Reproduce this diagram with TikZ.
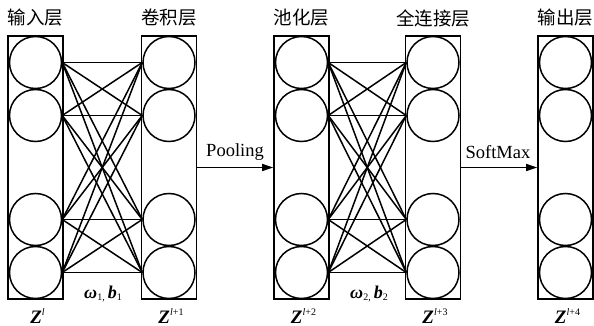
\documentclass[tikz,border=0pt]{standalone}
\usepackage{fontspec}
\setmainfont{Liberation Serif}
\newfontfamily\cjk{Noto Sans CJK SC}
\usetikzlibrary{arrows.meta}

\begin{document}
\begin{tikzpicture}[x=1pt,y=-1pt,
  layerbox/.style={draw, line width=1.7pt, minimum width=55pt, minimum height=263pt, inner sep=0pt},
  neuron/.style={circle, draw, line width=1.5pt, minimum size=52pt, inner sep=0pt},
  link/.style={line width=1.5pt},
  flow/.style={line width=1.5pt, -{Triangle[length=11pt,width=7pt]}},
  layertitle/.style={font=\cjk\fontsize{18.5}{18.5}\selectfont},
  zlabel/.style={anchor=base, font=\fontsize{19}{19}\selectfont},
  wlabel/.style={anchor=base, font=\fontsize{18}{18}\selectfont},
  flowlabel/.style={font=\fontsize{18.5}{18.5}\selectfont}]
\useasboundingbox (0,0) rectangle (594,326);

% layers: boxes with four neurons each
\foreach \i/\x/\t/\s in {1/35.5/输入层/{\textit{l}},
                         2/169/卷积层/{\textit{l}+1},
                         3/301.5/池化层/{\textit{l}+2},
                         4/433/全连接层/{\textit{l}+3},
                         5/565.5/输出层/{\textit{l}+4}} {
  \node[layerbox] (L\i) at (\x,167.5) {};
  \foreach \k/\y in {1/62.5,2/115.5,3/219.5,4/272.5}
    \node[neuron] (n\i-\k) at (\x,\y) {};
  \node[layertitle] (T\i) at (\x,18) {\t};
  \node[zlabel] (Z\i) at (\x+2,323) {\textbf{\textit{Z}}\raisebox{8pt}{\fontsize{10}{10}\selectfont\s}};
}

% full connections between neighbouring layers
\foreach \a/\b in {1/2,3/4}
  \foreach \p in {1,...,4}
    \foreach \q in {1,...,4}
      \draw[link] (n\a-\p.east) -- (n\b-\q.west);

% weights and biases
\node[wlabel] (W1) at (103,298) {\textbf{\textit{ω}}\raisebox{-2pt}{\fontsize{10}{10}\selectfont 1,}\,\textbf{\textit{b}}\raisebox{-2pt}{\fontsize{10}{10}\selectfont 1}};
\node[wlabel] (W2) at (369,298) {\textbf{\textit{ω}}\raisebox{-2pt}{\fontsize{10}{10}\selectfont 2,}\,\textbf{\textit{b}}\raisebox{-2pt}{\fontsize{10}{10}\selectfont 2}};

% pooling and softmax steps
\draw[flow] (L2) -- (L3);
\draw[flow] (L4) -- (L5);
\node[flowlabel] (P) at (235,152) {Pooling};
\node[flowlabel] (S) at (498,152) {SoftMax};
\end{tikzpicture}
\end{document}
